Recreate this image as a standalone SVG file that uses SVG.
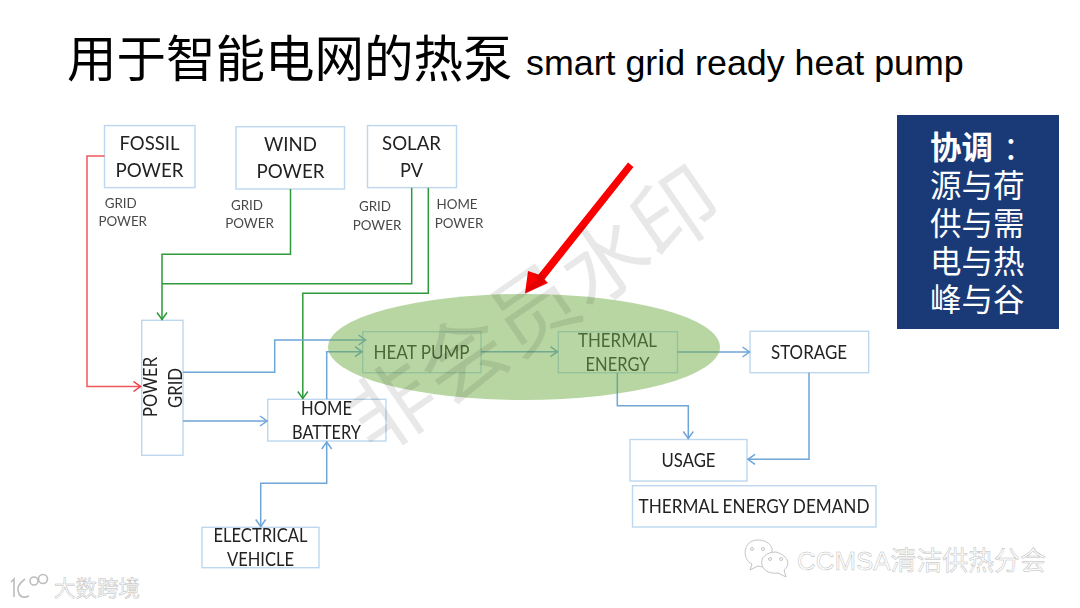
<svg xmlns="http://www.w3.org/2000/svg" width="1080" height="608" viewBox="0 0 1080 608">
<style>
.box{fill:#fff;stroke:#bdd7ee;stroke-width:1.4}
.t{font-family:"Lato","Noto Sans",sans-serif;font-size:19px;fill:#222;text-anchor:middle}
.s{font-family:"Lato","Noto Sans",sans-serif;font-size:13.4px;fill:#4a4a4a;text-anchor:middle}
.c{fill:none;stroke-width:1.5}
.blue{stroke:#6fa5d8}
.green{stroke:#2f9a3a}
.red{stroke:#f0575c}
.cjk{font-family:"Liberation Sans","Noto Sans CJK SC",sans-serif}
.side{font-family:"Liberation Sans","Noto Sans CJK SC",sans-serif;font-size:31.500px;fill:#fff}
.wm{font-family:"Liberation Sans","Noto Sans CJK SC",sans-serif;fill:#fff;stroke:#bdbdbd;stroke-width:.5}
</style>
<defs>
<filter id="soft" x="-5%" y="-5%" width="110%" height="110%"><feGaussianBlur stdDeviation="0.45"/></filter>
<marker id="ab" viewBox="0 0 10 12" refX="9.5" refY="6" markerWidth="10" markerHeight="12" markerUnits="userSpaceOnUse" orient="auto-start-reverse"><path d="M2 1 L9 6 L2 11" fill="none" stroke="#6fa5d8" stroke-width="1.5"/></marker>
<marker id="ag" viewBox="0 0 10 12" refX="9.5" refY="6" markerWidth="10" markerHeight="12" markerUnits="userSpaceOnUse" orient="auto"><path d="M2 1 L9 6 L2 11" fill="none" stroke="#2f9a3a" stroke-width="1.5"/></marker>
<marker id="ar" viewBox="0 0 10 12" refX="9.5" refY="6" markerWidth="10" markerHeight="12" markerUnits="userSpaceOnUse" orient="auto"><path d="M2 1 L9 6 L2 11" fill="none" stroke="#f0393f" stroke-width="1.5"/></marker>
</defs>
<rect width="1080" height="608" fill="#fff"/>
<g id="title"><text class="cjk" x="67" y="77" font-size="49.500" fill="#000">用于智能电网的热泵</text><text class="cjk" x="526" y="75" font-size="35.800" fill="#000">smart grid ready heat pump</text></g>
<g id="diagram" filter="url(#soft)">
<g id="fossil"><rect class="box" x="104.5" y="125.6" width="90.5" height="62"/><text class="t" x="149.5" y="150" textLength="60" lengthAdjust="spacingAndGlyphs">FOSSIL</text><text class="t" x="149.5" y="177" textLength="68" lengthAdjust="spacingAndGlyphs">POWER</text></g>
<g id="wind"><rect class="box" x="236" y="126.7" width="108.5" height="62.3"/><text class="t" x="290.5" y="151" textLength="53" lengthAdjust="spacingAndGlyphs">WIND</text><text class="t" x="290.5" y="178" textLength="68" lengthAdjust="spacingAndGlyphs">POWER</text></g>
<g id="solar"><rect class="box" x="367.5" y="125.6" width="89" height="62"/><text class="t" x="411.5" y="150" textLength="59" lengthAdjust="spacingAndGlyphs">SOLAR</text><text class="t" x="411.5" y="177" textLength="23" lengthAdjust="spacingAndGlyphs">PV</text></g>
<g id="grid"><rect class="box" x="141.7" y="320.3" width="41.3" height="135"/><text class="t" transform="translate(157 387) rotate(-90)" textLength="60" lengthAdjust="spacingAndGlyphs">POWER</text><text class="t" transform="translate(182 388) rotate(-90)" textLength="40" lengthAdjust="spacingAndGlyphs">GRID</text></g>
<g id="battery"><rect class="box" x="267.7" y="399.3" width="118.3" height="41.7"/><text class="t" x="326.5" y="415" textLength="51" lengthAdjust="spacingAndGlyphs">HOME</text><text class="t" x="326.5" y="439" textLength="69" lengthAdjust="spacingAndGlyphs">BATTERY</text></g>
<g id="ev"><rect class="box" x="202" y="527.3" width="117" height="40.4"/><text class="t" x="260.5" y="542" textLength="94" lengthAdjust="spacingAndGlyphs">ELECTRICAL</text><text class="t" x="260.5" y="566" textLength="67" lengthAdjust="spacingAndGlyphs">VEHICLE</text></g>
<g id="heatpump"><rect class="box" x="362.7" y="331.7" width="118.3" height="41"/><text class="t" x="421.5" y="358.5" textLength="96" lengthAdjust="spacingAndGlyphs">HEAT PUMP</text></g>
<g id="thermal"><rect class="box" x="558.3" y="331.7" width="119.2" height="41"/><text class="t" x="617.5" y="347" textLength="79" lengthAdjust="spacingAndGlyphs">THERMAL</text><text class="t" x="617.5" y="371" textLength="64" lengthAdjust="spacingAndGlyphs">ENERGY</text></g>
<g id="storage"><rect class="box" x="750" y="331.3" width="118.7" height="41.4"/><text class="t" x="809" y="358.500" textLength="76" lengthAdjust="spacingAndGlyphs">STORAGE</text></g>
<g id="usage"><rect class="box" x="630" y="439.5" width="117" height="41.5"/><text class="t" x="688.5" y="466.500" textLength="54" lengthAdjust="spacingAndGlyphs">USAGE</text></g>
<g id="demand"><rect class="box" x="632.5" y="485.7" width="243.5" height="41.3"/><text class="t" x="754" y="513" textLength="231" lengthAdjust="spacingAndGlyphs">THERMAL ENERGY DEMAND</text></g>
<g id="labels">
<text class="s" x="120.7" y="207.5">GRID</text><text class="s" x="122.7" y="226">POWER</text>
<text class="s" x="247" y="209.5">GRID</text><text class="s" x="249.5" y="228">POWER</text>
<text class="s" x="375" y="211">GRID</text><text class="s" x="377" y="229.5">POWER</text>
<text class="s" x="457" y="209">HOME</text><text class="s" x="459" y="228">POWER</text>
</g>
<g id="connectors">
<path class="c red" d="M104.5 156H87V386.5H141" marker-end="url(#ar)"/>
<path class="c green" d="M290.5 189V254.3H162V320" marker-end="url(#ag)"/>
<path class="c green" d="M411.7 187.7V283.7H162"/>
<path class="c green" d="M428.3 187.7V293.3H302.8V399" marker-end="url(#ag)"/>
<path class="c blue" d="M183 372.3H274.7V340H366" marker-end="url(#ab)"/>
<path class="c blue" d="M326.7 399.3V351.7H362.5" marker-end="url(#ab)"/>
<path class="c blue" d="M183 421H267.5" marker-end="url(#ab)"/>
<path class="c blue" d="M326.7 441.5V483.3H260.7V527" marker-start="url(#ab)" marker-end="url(#ab)"/>
<path class="c blue" d="M481 351.7H558" marker-end="url(#ab)"/>
<path class="c blue" d="M677.5 352H750" marker-end="url(#ab)"/>
<path class="c blue" d="M617.3 372.7V405.7H688.3V439" marker-end="url(#ab)"/>
<path class="c blue" d="M809 372.7V459.3H747.5" marker-end="url(#ab)"/>
</g>
<ellipse id="highlight" cx="524" cy="347" rx="196" ry="53" fill="#70ad47" fill-opacity=".5"/>
<polygon id="red-arrow" points="628,162.500 633.500,167 544.500,279.500 548,283 525,293.500 528,271 538.500,274.500" fill="#fa0505"/>
</g>
<g id="watermark" transform="translate(538 316) rotate(-34.500)"><text x="0" y="0" text-anchor="middle" font-family="Noto Sans CJK SC,sans-serif" font-size="86" fill="#000" fill-opacity=".09" dominant-baseline="middle">非会员水印</text></g>
<g id="side-panel"><rect x="897" y="115" width="162" height="214" fill="#193a77"/>
<text class="side" x="930" y="159" font-weight="700">协调</text><text class="side" x="1003" y="159">：</text>
<text class="side" x="930" y="197">源与荷</text>
<text class="side" x="930" y="235">供与需</text>
<text class="side" x="930" y="273">电与热</text>
<text class="side" x="930" y="311">峰与谷</text></g>
<g id="logo-left" fill="none" stroke="#bdbdbd" stroke-width="1.6"><path d="M11 582L14 579V597M25 579Q15 586 19 594Q22 599 29 596"/><circle cx="34" cy="581" r="4"/><circle cx="43" cy="579" r="4.500"/></g>
<text class="wm" x="54" y="596" font-size="21.500">大数跨境</text>
<g id="logo-right" fill="#fff" stroke="#c4c4c4" stroke-width="1"><path d="M758 540C742 540 742 560 752 564L750 570L758 566C764 568 770 566 772 562L772 548C770 543 764 540 758 540Z"/><path d="M776 552C766 552 760 558 762 565C764 572 772 574 778 573L786 577L784 570C790 566 790 556 776 552Z"/><circle cx="770" cy="559" r="1.500"/><circle cx="781" cy="559" r="1.500"/><circle cx="752" cy="549" r="1.500"/><circle cx="763" cy="549" r="1.500"/></g>
<text class="wm" x="797" y="570" font-size="25.900">CCMSA清洁供热分会</text>
</svg>
